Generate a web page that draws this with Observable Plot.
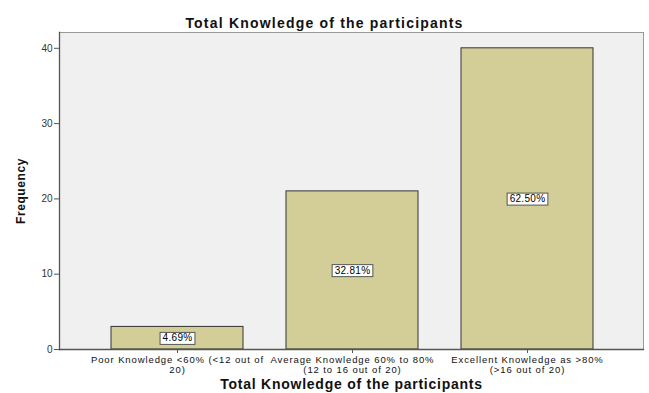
<!DOCTYPE html>
<html><head><meta charset="utf-8">
<script src="https://cdn.jsdelivr.net/npm/d3@7"></script>
<script src="https://cdn.jsdelivr.net/npm/@observablehq/plot@0.6"></script>
<style>body{margin:0;background:#fff;} svg{display:block;}</style>
</head><body><div id="chart"></div>
<script>
const categories = ["Poor", "Average", "Excellent"];
const tickLabels = [
  "Poor Knowledge <60% (<12 out of\n20)",
  "Average Knowledge 60% to 80%\n(12 to 16 out of 20)",
  "Excellent Knowledge as >80%\n(>16 out of 20)"
];
const frequencies = [3, 21, 40];
const percentLabels = ["4.69%", "32.81%", "62.50%"];
const yTicks = [0, 10, 20, 30, 40];
const chartTitle = "Total Knowledge of the participants";
const xTitle = "Total Knowledge of the participants";
const yTitle = "Frequency";

const data = categories.map((c, i) => ({category: c, freq: frequencies[i], pct: percentLabels[i]}));
const font = "'Liberation Sans', Arial, sans-serif";

const chart = Plot.plot({
  width: 649, height: 393,
  marginTop: 32, marginBottom: 44, marginLeft: 59, marginRight: 6,
  style: {fontFamily: font, fontSize: "10px", background: "#fff", color: "#222", overflow: "visible"},
  x: {domain: categories, padding: 0.248, paddingOuter: 0, insetLeft: 51, insetRight: 50, label: null},
  y: {domain: [0, 42.1], label: null},
  marks: [
    Plot.frame({fill: "#f0f0f0", stroke: "#999"}),
    Plot.barY(data, {x: "category", y: "freq", fill: "#d3ce98", stroke: "#333", strokeWidth: 1}),
    Plot.text(data, {x: "category", y: d => d.freq / 2, text: "pct", fill: "#000", fontSize: 10}),
    Plot.frame({anchor: "left", stroke: "#555", strokeWidth: 1.3}),
    Plot.frame({anchor: "bottom", stroke: "#555", strokeWidth: 1.3}),
    Plot.axisY({ticks: yTicks, tickSize: 5, tickPadding: 2, label: null, stroke: "#555", fill: "#333", fontSize: 10}),
    Plot.axisX({tickFormat: d => tickLabels[categories.indexOf(d)], tickSize: 4, tickPadding: 3, label: null,
      stroke: "#555", fill: "#111", fontSize: 9.5, lineHeight: 1.02}),
    Plot.text([chartTitle], {frameAnchor: "top", dx: -27, dy: -5, lineAnchor: "bottom", fontWeight: "bold", fontSize: 14, fill: "#111"}),
    Plot.text([xTitle], {frameAnchor: "bottom", dy: 35, lineAnchor: "middle", fontWeight: "bold", fontSize: 14, fill: "#111"}),
    Plot.text([yTitle], {frameAnchor: "left", dx: -38, rotate: -90, textAnchor: "middle", fontWeight: "bold", fontSize: 12, fill: "#111"})
  ]
});
document.getElementById("chart").append(chart);

// letter spacing (styling only)
const xt = chart.querySelector('g[aria-label="x-axis tick label"]');
if (xt) xt.setAttribute("letter-spacing", "0.9");
chart.querySelectorAll('g[aria-label="text"] text').forEach(t => {
  if (t.textContent === yTitle) t.setAttribute("letter-spacing", "0.6");
  if (percentLabels.includes(t.textContent)) t.setAttribute("letter-spacing", "0.3");
});
const titleTexts = [...chart.querySelectorAll("text")].filter(t => t.textContent === chartTitle);
if (titleTexts[0]) titleTexts[0].setAttribute("letter-spacing", "1.2");
if (titleTexts[1]) titleTexts[1].setAttribute("letter-spacing", "0.75");

// white boxes behind the percentage labels
const ns = "http://www.w3.org/2000/svg";
chart.querySelectorAll("text").forEach(t => {
  if (percentLabels.includes(t.textContent)) {
    const b = t.getBBox();
    const r = document.createElementNS(ns, "rect");
    r.setAttribute("x", b.x - 2.5);
    r.setAttribute("y", b.y);
    r.setAttribute("width", b.width + 5);
    r.setAttribute("height", b.height + 1);
    r.setAttribute("fill", "#fff");
    r.setAttribute("stroke", "#555");
    r.setAttribute("stroke-width", 1);
    if (t.getAttribute("transform")) r.setAttribute("transform", t.getAttribute("transform"));
    t.parentNode.insertBefore(r, t);
  }
});
</script>
</body></html>
